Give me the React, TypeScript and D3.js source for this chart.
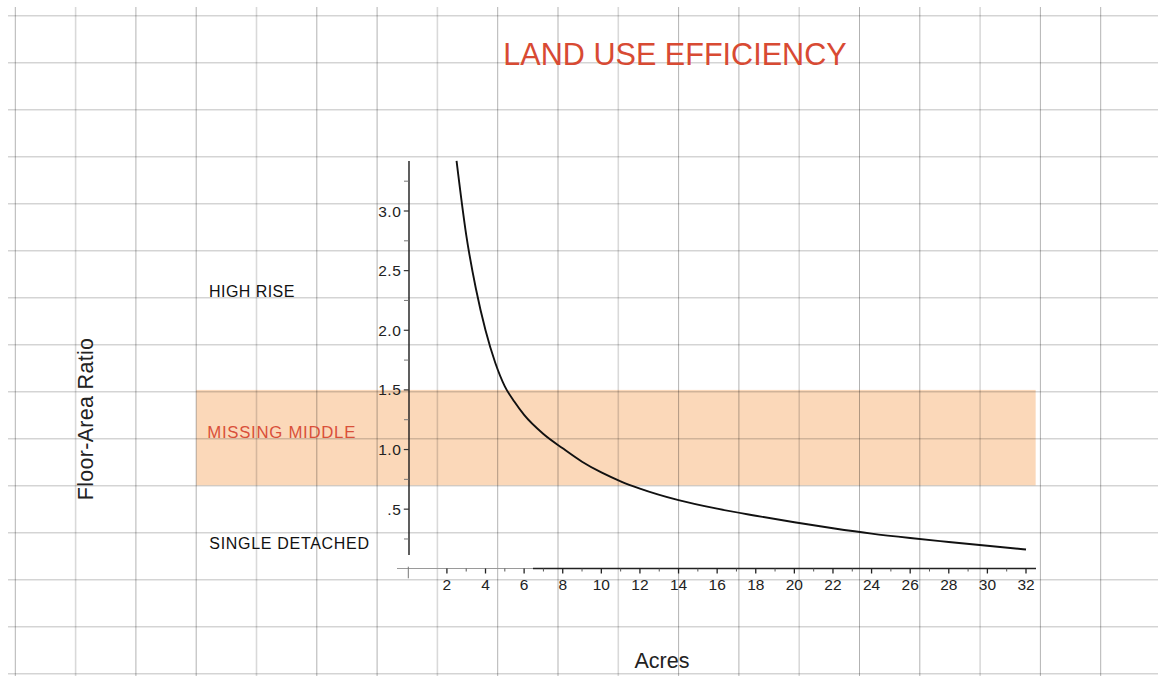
import React from "react";
import * as d3 from "d3";

// ---- data ----
const acres = [2.5, 3, 3.5, 4, 4.5, 5, 5.5, 6, 7, 8, 9, 10, 11, 12, 14, 16, 18, 20, 22, 24, 26, 28, 30, 32];
const floorAreaRatio = [3.42, 2.8, 2.35, 2.0, 1.73, 1.53, 1.4, 1.29, 1.13, 1.01, 0.898, 0.808, 0.734, 0.673, 0.576, 0.504, 0.445, 0.39, 0.34, 0.295, 0.258, 0.225, 0.193, 0.162];
const xTickValues = [2, 4, 6, 8, 10, 12, 14, 16, 18, 20, 22, 24, 26, 28, 30, 32];
const xMinorTicks = [3, 5, 7, 9, 11, 13, 15, 17, 19, 21, 23, 25, 27, 29, 31];
const yTickValues = [0.5, 1.0, 1.5, 2.0, 2.5, 3.0];
const yTickLabels = [".5", "1.0", "1.5", "2.0", "2.5", "3.0"];
const yMinorTicks = [0.25, 0.75, 1.25, 1.75, 2.25, 2.75, 3.25];
const missingMiddle = [0.7, 1.5];
const zoneLabels = ["HIGH RISE", "MISSING MIDDLE", "SINGLE DETACHED"];
const title = "LAND USE EFFICIENCY";

const W = 1158;
const H = 676;
const FONT = "'Liberation Sans', Arial, Helvetica, sans-serif";

export default function App() {
  const x = d3.scaleLinear().domain([0, 32]).range([408.3, 1026]);
  const y = d3.scaleLinear().domain([0, 3]).range([568.8, 211]);

  const gridX = d3.range(0, 19).map((i) => 15.3 + 60.3 * i);
  const gridY = d3.range(0, 15).map((i) => 15.7 + 47 * i);

  const pts: [number, number][] = acres.map((a, i) => [a, floorAreaRatio[i]]);
  const line = d3
    .line<[number, number]>()
    .x((d) => x(d[0]))
    .y((d) => y(d[1]))
    .curve(d3.curveMonotoneX);

  const axisY0 = y(0) - 0.3;
  const bandLeft = 196.3;
  const bandRight = x(32.5);

  return (
    <svg
      width={W}
      height={H}
      style={{ position: "absolute", left: 0, top: 0, background: "#fff" }}
      fontFamily={FONT}
    >
      <rect x={0} y={0} width={W} height={H} fill="#fff" />
      {/* missing middle band */}
      <rect
        x={bandLeft}
        y={y(missingMiddle[1])}
        width={bandRight - bandLeft}
        height={y(missingMiddle[0]) - y(missingMiddle[1])}
        fill="#FBD8B9"
      />
      {/* background grid */}
      {gridY.map((gy, i) => (
        <line key={"gy" + i} x1={8} x2={W} y1={gy} y2={gy} stroke="rgba(0,0,0,0.17)" strokeWidth={1.6} />
      ))}
      {gridX.map((gx, i) => (
        <line
          key={"gx" + i}
          x1={gx}
          x2={gx}
          y1={7}
          y2={H}
          stroke={i % 3 === 1 ? "rgba(0,0,0,0.15)" : "rgba(0,0,0,0.3)"}
          strokeWidth={i % 3 === 1 ? 1.6 : 1}
        />
      ))}

      {/* title */}
      <text x={675} y={65} textAnchor="middle" fontSize={30.6} fill="#D84A33">
        {title}
      </text>

      {/* zone labels */}
      <text x={209} y={297.3} fontSize={16} letterSpacing={0.45} fill="#111">
        {zoneLabels[0]}
      </text>
      <text x={207.3} y={437.7} fontSize={16.8} letterSpacing={0.7} fill="#D9503A">
        {zoneLabels[1]}
      </text>
      <text x={209.3} y={549.3} fontSize={16} letterSpacing={0.7} fill="#111">
        {zoneLabels[2]}
      </text>

      {/* y axis */}
      <line x1={x(0) + 0.7} x2={x(0) + 0.7} y1={161} y2={555} stroke="#1a1a1a" strokeWidth={1.4} />
      {yTickValues.map((v, i) => (
        <g key={"yt" + i}>
          <line x1={403.8} x2={409} y1={y(v)} y2={y(v)} stroke="#333" strokeWidth={1.2} />
          <text x={401.5} y={y(v)} dy="0.36em" textAnchor="end" fontSize={15.5} letterSpacing={0.6} fill="#222">
            {yTickLabels[i]}
          </text>
        </g>
      ))}
      {yMinorTicks.map((v, i) => (
        <line key={"ym" + i} x1={404} x2={408.5} y1={y(v)} y2={y(v)} stroke="#777" strokeWidth={1} />
      ))}

      {/* x axis */}
      <line x1={397} x2={533} y1={axisY0} y2={axisY0} stroke="#9a9a9a" strokeWidth={1} />
      <line x1={533} x2={1036} y1={axisY0} y2={axisY0} stroke="#222" strokeWidth={1.3} />
      <line x1={x(0)} x2={x(0)} y1={566.7} y2={578.3} stroke="#777" strokeWidth={1} />
      {xTickValues.map((v, i) => (
        <g key={"xt" + i}>
          <line x1={x(v)} x2={x(v)} y1={axisY0} y2={axisY0 + 5} stroke="#222" strokeWidth={1.3} />
          <text x={x(v)} y={590} textAnchor="middle" fontSize={15.5} fill="#222">
            {v}
          </text>
        </g>
      ))}
      {xMinorTicks.map((v, i) => (
        <line key={"xm" + i} x1={x(v)} x2={x(v)} y1={axisY0} y2={axisY0 + 3} stroke="#555" strokeWidth={1} />
      ))}

      {/* curve */}
      <path d={line(pts) || ""} fill="none" stroke="#111" strokeWidth={1.9} />

      {/* axis titles */}
      <text x={662} y={668} textAnchor="middle" fontSize={21.5} fill="#222">
        Acres
      </text>
      <text
        transform="translate(93.3,419) rotate(-90)"
        textAnchor="middle"
        fontSize={21.5}
        letterSpacing={0.3}
        fill="#222"
      >
        Floor-Area Ratio
      </text>
    </svg>
  );
}
